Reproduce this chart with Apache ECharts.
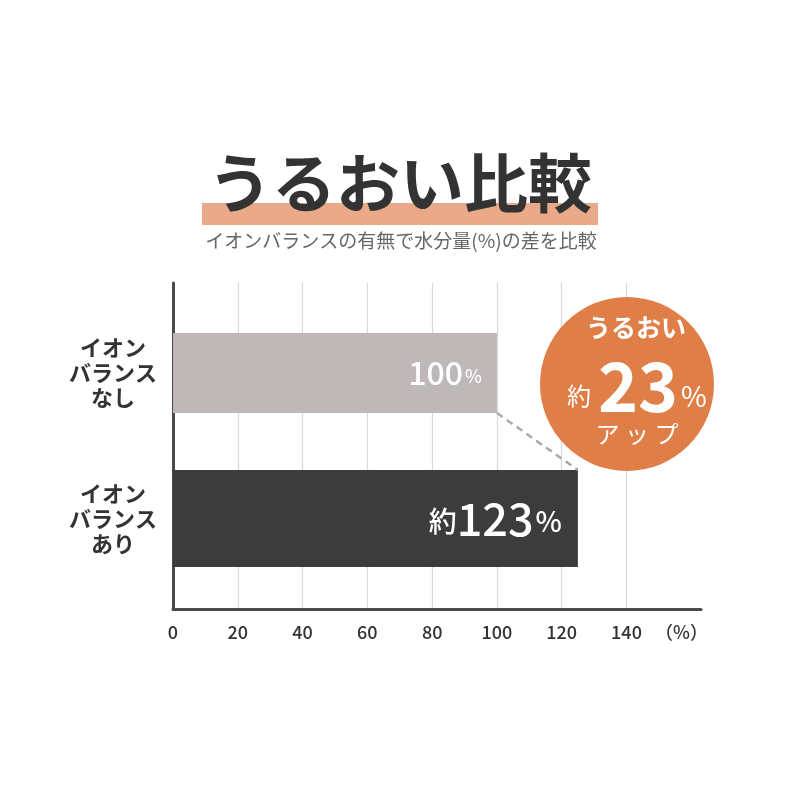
<!DOCTYPE html>
<html><head><meta charset="utf-8">
<script src="https://cdn.jsdelivr.net/npm/echarts@6/dist/echarts.min.js"></script>
<style>html,body{margin:0;padding:0;background:#fff}#c{width:800px;height:800px}</style>
</head><body><div id="c"></div>
<script>
const titleText = 'うるおい比較';
const subtitleText = 'イオンバランスの有無で水分量(%)の差を比較';
const categories = ['イオン\nバランス\nなし', 'イオン\nバランス\nあり'];
const withoutIon = [100, '-'];
const withIon = ['-', 125];
const barLabelTexts = ['100', '123'];
const xTickValues = [0, 20, 40, 60, 80, 100, 120, 140];
const xUnitLabel = '（%）';
const xUnitPos = 157;
const badgeLines = ['うるおい', '約', '23', '%', 'アップ'];

const FONT = '"Noto Sans CJK JP", "Noto Sans", sans-serif';
const BAR1_H = 80, BAR2_H = 97;
const X_MAX = 163;

const chart = echarts.init(document.getElementById('c'), null, {renderer: 'canvas'});
const option = {
  backgroundColor: '#fff',
  animation: false,
  textStyle: {fontFamily: FONT},
  grid: [
    {left: 173, right: 99, top: 283, bottom: 191, containLabel: false},
    {left: 173, right: 99, top: 373, bottom: 281.5, containLabel: false}
  ],
  xAxis: [{
    gridIndex: 0, type: 'value', min: 0, max: X_MAX,
    axisLine: {show: true, onZero: false, lineStyle: {color: '#4a4a4a', width: 3}},
    axisTick: {show: false, customValues: xTickValues},
    splitLine: {show: true, lineStyle: {color: '#d9d9d9', width: 1.2}},
    axisLabel: {
      customValues: xTickValues.concat([xUnitPos]),
      formatter: v => (v === xUnitPos ? xUnitLabel : String(v)),
      color: '#333', fontSize: 18, fontWeight: 500, margin: 14, fontFamily: FONT
    }
  }, {
    gridIndex: 1, type: 'value', min: 0, max: X_MAX, show: false
  }],
  yAxis: [{
    gridIndex: 0, type: 'value', min: 0, max: 1,
    axisLine: {show: true, onZero: false, lineStyle: {color: '#4a4a4a', width: 3}},
    axisTick: {show: false}, axisLabel: {show: false}, splitLine: {show: false}
  }, {
    gridIndex: 1, type: 'category', data: categories, inverse: true, boundaryGap: false,
    axisLine: {show: false}, axisTick: {show: false}, splitLine: {show: false},
    axisLabel: {color: '#333', fontSize: 22, fontWeight: 'bold', lineHeight: 25, align: 'center', margin: 60, fontFamily: FONT}
  }, {
    gridIndex: 1, type: 'category', data: categories, inverse: true, boundaryGap: false, show: false
  }],
  series: [{
    type: 'bar', xAxisIndex: 1, yAxisIndex: 1, data: withoutIon, barWidth: BAR1_H,
    itemStyle: {color: '#bfb8b9'},
    label: {
      show: true, position: 'insideRight', distance: 15,
      formatter: p => '{n|' + barLabelTexts[p.dataIndex] + '}{p|%}',
      rich: {
        n: {fontSize: 32, color: '#fff', fontWeight: 500, fontFamily: FONT},
        p: {fontSize: 18, color: '#fff', fontWeight: 500, fontFamily: FONT, padding: [7, 0, 0, 2]}
      }
    }
  }, {
    type: 'bar', xAxisIndex: 1, yAxisIndex: 2, data: withIon, barWidth: BAR2_H,
    itemStyle: {color: '#3c3c3c'},
    label: {
      show: true, position: 'insideRight', distance: 16,
      formatter: p => '{k|約}{n|' + barLabelTexts[p.dataIndex] + '}{p|%}',
      rich: {
        k: {fontSize: 28, color: '#fff', fontWeight: 500, fontFamily: FONT, padding: [6, 0, 0, 0]},
        n: {fontSize: 45, color: '#fff', fontWeight: 500, fontFamily: FONT},
        p: {fontSize: 28, color: '#fff', fontWeight: 500, fontFamily: FONT, padding: [6, 0, 0, 2]}
      }
    }
  }]
};
chart.setOption(option);

const p1 = chart.convertToPixel({xAxisIndex: 1, yAxisIndex: 1}, [withoutIon[0], 0]);
const p2 = chart.convertToPixel({xAxisIndex: 1, yAxisIndex: 2}, [withIon[1], 1]);

chart.setOption({
  graphic: [
    {type: 'rect', z: 10, shape: {x: 202, y: 203, width: 396, height: 22}, style: {fill: '#eaa988'}},
    {type: 'text', z: 11, x: 400, y: 183, style: {text: titleText, font: 'bold 64px ' + FONT, fill: '#333', align: 'center', verticalAlign: 'middle'}},
    {type: 'text', z: 11, x: 401, y: 241, style: {text: subtitleText, font: '19px ' + FONT, fill: '#666', align: 'center', verticalAlign: 'middle'}},
    {type: 'line', z: 5, shape: {x1: p1[0], y1: p1[1] + BAR1_H / 2, x2: p2[0], y2: p2[1] - BAR2_H / 2},
      style: {stroke: '#aaaaaa', lineWidth: 2.5, lineDash: [7, 5]}},
    {type: 'circle', z: 20, shape: {cx: 627, cy: 384, r: 87}, style: {fill: '#e07e47'}},
    {type: 'text', z: 21, x: 636, y: 327, style: {text: badgeLines[0], font: 'bold 25px ' + FONT, fill: '#fff', align: 'center', verticalAlign: 'middle'}},
    {type: 'text', z: 21, x: 579, y: 396, style: {text: badgeLines[1], font: '24px ' + FONT, fill: '#fff', align: 'center', verticalAlign: 'middle'}},
    {type: 'text', z: 21, x: 638, y: 386, style: {text: badgeLines[2], font: 'bold 68px ' + FONT, fill: '#fff', align: 'center', verticalAlign: 'middle'}},
    {type: 'text', z: 21, x: 694, y: 396, style: {text: badgeLines[3], font: '28px ' + FONT, fill: '#fff', align: 'center', verticalAlign: 'middle'}},
    {type: 'text', z: 21, x: 637, y: 434, style: {text: badgeLines[4].split('').join(' '), font: '24px ' + FONT, fill: '#fff', align: 'center', verticalAlign: 'middle'}}
  ]
});
</script></body></html>
